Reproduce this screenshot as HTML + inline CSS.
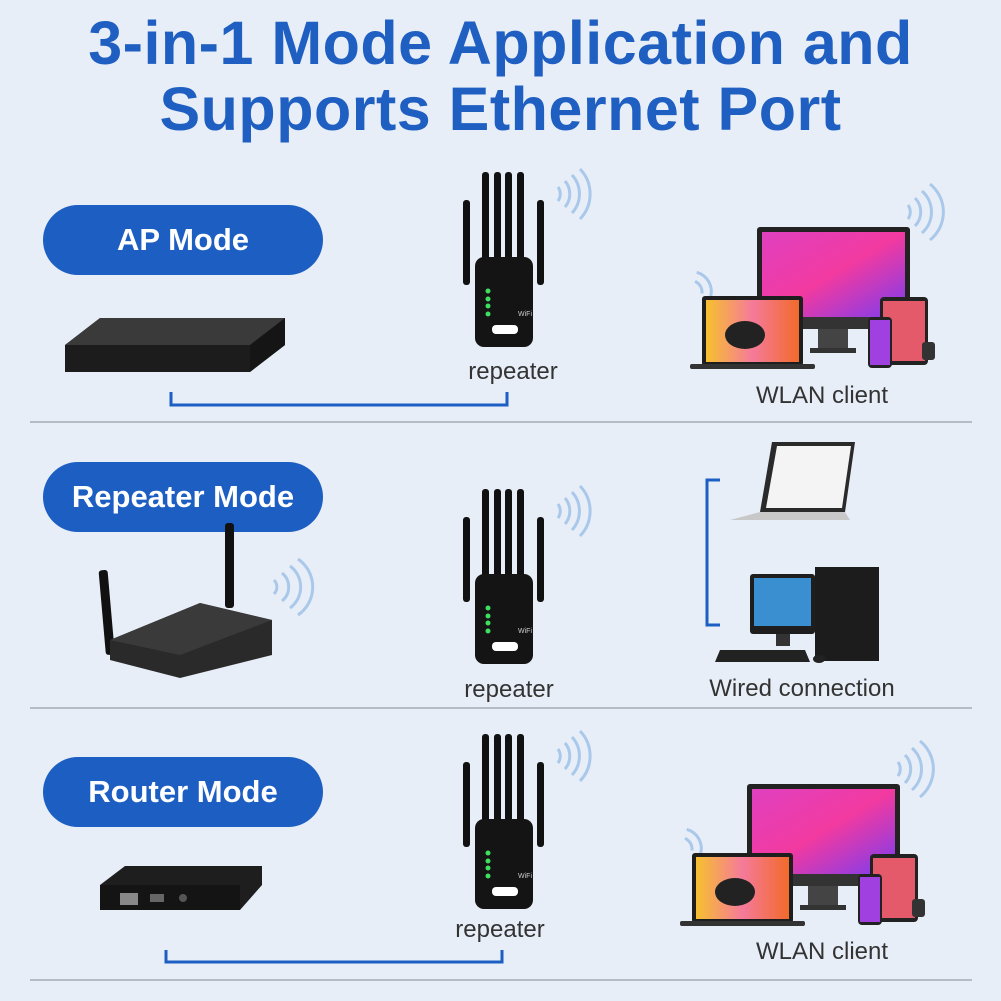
<!DOCTYPE html>
<html><head><meta charset="utf-8"><style>
html,body{margin:0;padding:0;}
body{width:1001px;height:1001px;background:#e7eef8;position:relative;overflow:hidden;font-family:"Liberation Sans",sans-serif;}
.t{position:absolute;left:0;width:1001px;text-align:center;color:#1f5fc1;font-weight:bold;font-size:61px;letter-spacing:0.5px;}
.pill{position:absolute;left:43px;width:280px;height:70px;border-radius:35px;background:#1d5ec3;color:#fff;font-weight:bold;font-size:31px;text-align:center;line-height:70px;}
.lb{position:absolute;color:#333;font-size:24px;transform:translateX(-50%);white-space:nowrap;}
.sep{position:absolute;left:30px;width:942px;height:2px;background:#b5bcc6;}
svg{position:absolute;left:0;top:0;}
</style></head><body>
<div class="t" style="top:8px;">3-in-1 Mode Application and</div>
<div class="t" style="top:74px;">Supports Ethernet Port</div>
<div class="pill" style="top:205px;">AP Mode</div>
<div class="pill" style="top:462px;">Repeater Mode</div>
<div class="pill" style="top:757px;">Router Mode</div>
<div class="sep" style="top:421px;"></div>
<div class="sep" style="top:707px;"></div>
<div class="sep" style="top:979px;"></div>
<div class="lb" style="left:513px;top:358px;">repeater</div>
<div class="lb" style="left:509px;top:676px;">repeater</div>
<div class="lb" style="left:500px;top:916px;">repeater</div>
<div class="lb" style="left:822px;top:382px;">WLAN client</div>
<div class="lb" style="left:822px;top:938px;">WLAN client</div>
<div class="lb" style="left:802px;top:675px;">Wired connection</div>
<svg width="1001" height="1001" viewBox="0 0 1001 1001">
<defs>
<linearGradient id="scr" x1="0" y1="0" x2="1" y2="1"><stop offset="0" stop-color="#e040c0"/><stop offset="0.5" stop-color="#f23aa0"/><stop offset="1" stop-color="#7a3cf0"/></linearGradient>
<linearGradient id="lap" x1="0" y1="0" x2="1" y2="0"><stop offset="0" stop-color="#f7c02e"/><stop offset="0.5" stop-color="#f57a9a"/><stop offset="1" stop-color="#f26a2a"/></linearGradient>
<g id="rep">
<rect x="463" y="200" width="7" height="85" rx="3" fill="#111"/>
<rect x="537" y="200" width="7" height="85" rx="3" fill="#111"/>
<rect x="482" y="172" width="7" height="92" rx="3" fill="#111"/>
<rect x="494" y="172" width="7" height="92" rx="3" fill="#111"/>
<rect x="505" y="172" width="7" height="92" rx="3" fill="#111"/>
<rect x="517" y="172" width="7" height="92" rx="3" fill="#111"/>
<rect x="475" y="257" width="58" height="90" rx="9" fill="#141414"/>
<circle cx="488" cy="291" r="2.5" fill="#3de060"/><circle cx="488" cy="299" r="2.5" fill="#3de060"/><circle cx="488" cy="306" r="2.5" fill="#3de060"/><circle cx="488" cy="314" r="2.5" fill="#3de060"/>
<rect x="492" y="325" width="26" height="9" rx="4" fill="#fff"/>
<text x="518" y="316" font-size="7" fill="#ccc" font-family="Liberation Sans">WiFi</text>
<path d="M558 187 a12 12 0 0 1 0 14 M565 181 a20 20 0 0 1 0 26 M572 175 a28 28 0 0 1 0 38 M580 169 a36 36 0 0 1 0 50" fill="none" stroke="#a9c8ea" stroke-width="3"/>
</g>
<g id="cli">
<path d="M908 205 a12 12 0 0 1 0 14 M915 198 a20 20 0 0 1 0 28 M922 191 a28 28 0 0 1 0 42 M930 184 a36 36 0 0 1 0 56" fill="none" stroke="#a9c8ea" stroke-width="3"/>
<path d="M700 280 a12 12 0 0 1 0 14 M706 273 a20 20 0 0 1 0 28" fill="none" stroke="#a9c8ea" stroke-width="3" transform="rotate(-30 700 290)"/>
<rect x="757" y="227" width="153" height="98" rx="3" fill="#222"/>
<rect x="762" y="232" width="143" height="85" fill="url(#scr)"/>
<rect x="757" y="317" width="153" height="12" fill="#333"/>
<rect x="818" y="329" width="30" height="20" fill="#444"/>
<rect x="810" y="348" width="46" height="5" fill="#333"/>
<rect x="702" y="296" width="101" height="70" rx="3" fill="#1e1e1e"/>
<rect x="706" y="300" width="93" height="62" fill="url(#lap)"/>
<ellipse cx="745" cy="335" rx="20" ry="14" fill="#222"/>
<rect x="690" y="364" width="125" height="5" rx="2" fill="#333"/>
<rect x="880" y="297" width="48" height="68" rx="4" fill="#222"/>
<rect x="883" y="301" width="42" height="60" fill="#e45a6a"/>
<rect x="868" y="317" width="24" height="51" rx="4" fill="#222"/>
<rect x="870" y="320" width="20" height="45" fill="#a040e0"/>
<rect x="922" y="342" width="13" height="18" rx="3" fill="#333"/>
</g>
</defs>
<use href="#rep"/>
<use href="#rep" transform="translate(0,317)"/>
<use href="#rep" transform="translate(0,562)"/>
<use href="#cli"/>
<use href="#cli" transform="translate(-10,557)"/>
<path d="M171 392 V405 H507 V392" fill="none" stroke="#1d5ec3" stroke-width="3"/>
<path d="M166 950 V962 H502 V950" fill="none" stroke="#1d5ec3" stroke-width="3"/>
<path d="M720 480 H707 V625 H720" fill="none" stroke="#1d5ec3" stroke-width="3"/>
<polygon points="65,345 100,318 285,318 285,345 250,372 65,372" fill="#2a2a2a"/>
<polygon points="65,345 100,318 285,318 250,345" fill="#3a3a3a"/>
<rect x="65" y="345" width="185" height="27" fill="#1c1c1c"/>
<polygon points="250,345 285,318 285,345 250,372" fill="#151515"/>
<rect x="102" y="570" width="9" height="85" rx="3" fill="#111" transform="rotate(-5 106 610)"/>
<rect x="225" y="523" width="9" height="85" rx="3" fill="#111"/>
<polygon points="110,640 200,603 272,620 272,655 180,678 110,660" fill="#2a2a2a"/>
<polygon points="110,640 200,603 272,620 180,655" fill="#3a3a3a"/>
<path d="M274 580 a10 10 0 0 1 0 14 M282 573 a18 18 0 0 1 0 28 M290 566 a26 26 0 0 1 0 42 M298 559 a34 34 0 0 1 0 56" fill="none" stroke="#a9c8ea" stroke-width="3"/>
<polygon points="100,885 125,866 262,866 262,885 240,910 100,910" fill="#1e1e1e"/>
<rect x="100" y="885" width="140" height="25" fill="#141414"/>
<rect x="120" y="893" width="18" height="12" fill="#888"/>
<rect x="150" y="894" width="14" height="8" fill="#666"/>
<circle cx="183" cy="898" r="4" fill="#555"/>
<polygon points="772,442 855,442 845,512 760,512" fill="#2a2a2a"/>
<polygon points="777,446 851,446 842,508 766,508" fill="#f4f4f4"/>
<polygon points="760,512 845,512 850,520 730,520" fill="#c8c8c8"/>
<rect x="750" y="574" width="65" height="60" rx="3" fill="#1e1e1e"/>
<rect x="754" y="578" width="57" height="48" fill="#3a8fd0"/>
<rect x="776" y="634" width="14" height="12" fill="#333"/>
<rect x="815" y="567" width="64" height="94" fill="#1c1c1c"/>
<polygon points="720,650 805,650 810,662 715,662" fill="#222"/>
<ellipse cx="819" cy="659" rx="6" ry="4" fill="#222"/>
</svg>
</body></html>
